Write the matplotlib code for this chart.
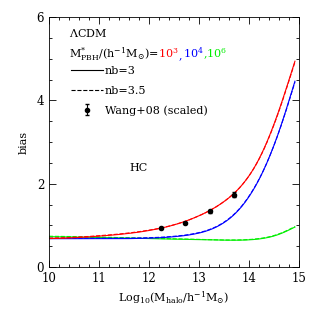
import numpy as np
import matplotlib
matplotlib.use("Agg")
import matplotlib.pyplot as plt
from matplotlib.ticker import MultipleLocator
from matplotlib.offsetbox import TextArea, HPacker, AnchoredOffsetbox

plt.rcParams['font.family'] = ['DejaVu Serif']
plt.rcParams['mathtext.fontset'] = 'dejavuserif'

# log10 halo mass grid used for the model curves
logm = [10.0, 10.5, 11.0, 11.5, 12.0, 12.5, 13.0, 13.3, 13.6, 13.9, 14.1, 14.3, 14.5, 14.7, 14.92]

# M*_PBH = 1e3 (red)
bias_1e3_nb3 = [0.68, 0.70, 0.74, 0.79, 0.87, 1.00, 1.22, 1.40, 1.64, 1.98, 2.32, 2.78, 3.38, 4.10, 4.94]
bias_1e3_nb35 = [0.69, 0.71, 0.75, 0.80, 0.88, 1.00, 1.22, 1.40, 1.64, 1.98, 2.32, 2.77, 3.36, 4.08, 4.92]
# M*_PBH = 1e4 (blue)
bias_1e4_nb3 = [0.68, 0.68, 0.68, 0.68, 0.69, 0.72, 0.80, 0.91, 1.12, 1.47, 1.84, 2.30, 2.86, 3.58, 4.46]
bias_1e4_nb35 = [0.69, 0.69, 0.69, 0.69, 0.70, 0.73, 0.81, 0.92, 1.13, 1.48, 1.85, 2.31, 2.85, 3.57, 4.44]
# M*_PBH = 1e6 (green)
bias_1e6_nb3 = [0.73, 0.72, 0.71, 0.70, 0.68, 0.67, 0.66, 0.65, 0.64, 0.645, 0.65, 0.68, 0.73, 0.81, 0.96]
bias_1e6_nb35 = [0.74, 0.73, 0.72, 0.70, 0.69, 0.68, 0.66, 0.65, 0.645, 0.65, 0.66, 0.69, 0.74, 0.82, 0.97]

# Wang+08 (scaled)
wang_m = [12.25, 12.73, 13.22, 13.70]
wang_b = [0.94, 1.06, 1.34, 1.74]
wang_err = [0.03, 0.03, 0.04, 0.06]

fig = plt.figure(figsize=(3.16, 3.16), dpi=100)
ax = fig.add_axes([0.155, 0.155, 0.791, 0.791])

xs = np.linspace(10.0, 14.92, 400)
def smooth(y):
    # interpolate in log space, then light moving average to round the knots
    v = np.exp(np.interp(xs, logm, np.log(y)))
    k = 25
    pad = np.concatenate([np.full(k, v[0]), v, v[-1] + (v[-1] - v[-k - 1:-1][::-1])])
    return np.convolve(pad, np.ones(2 * k + 1) / (2 * k + 1), mode='same')[k:-k]

ax.plot(xs, smooth(bias_1e6_nb3), color='#00ee00', lw=0.8)
ax.plot(xs, smooth(bias_1e6_nb35), color='#00ee00', lw=0.8, ls='--')
ax.plot(xs, smooth(bias_1e4_nb3), color='blue', lw=0.8)
ax.plot(xs, smooth(bias_1e4_nb35), color='blue', lw=0.8, ls='--')
ax.plot(xs, smooth(bias_1e3_nb3), color='red', lw=0.8)
ax.plot(xs, smooth(bias_1e3_nb35), color='red', lw=0.8, ls='--')

h1, = ax.plot([], [], color='black', lw=0.8)
h2, = ax.plot([], [], color='black', lw=0.8, ls='--')
h3 = ax.errorbar(wang_m, wang_b, yerr=wang_err, fmt='o', color='black',
                 ms=3, elinewidth=0.8, capsize=1.5)
leg = ax.legend([h1, h2, h3], ['nb=3', 'nb=3.5', 'Wang+08 (scaled)'],
                loc='upper left', bbox_to_anchor=(0.055, 0.835), frameon=False,
                fontsize=8, handlelength=2.9, handletextpad=0.2, labelspacing=0.85,
                borderpad=0.2)

ax.text(0.08, 0.935, r'$\Lambda$CDM', transform=ax.transAxes, fontsize=8, va='center')

# coloured mass line, pieces aligned on a common baseline
pieces = [(r'M$^{*}_{\rm PBH}$/(h$^{-1}$M$_{\odot}$)=', 'black'),
          (r'10$^{3}$', 'red'), (',', 'blue'), (r'10$^{4}$', 'blue'),
          (r',10$^{6}$', '#00ee00')]
areas = [TextArea(s, textprops=dict(color=c, fontsize=8)) for s, c in pieces]
box = HPacker(children=areas, align='baseline', pad=0, sep=0)
anch = AnchoredOffsetbox(loc='center left', child=box, pad=0, borderpad=0, frameon=False,
                         bbox_to_anchor=(0.08, 0.85), bbox_transform=ax.transAxes)
ax.add_artist(anch)

ax.text(11.8, 2.38, 'HC', fontsize=8, ha='center', va='center')

ax.set_xlim(10, 15)
ax.set_ylim(0, 6)
ax.xaxis.set_major_locator(MultipleLocator(1))
ax.xaxis.set_minor_locator(MultipleLocator(0.2))
ax.yaxis.set_major_locator(MultipleLocator(2))
ax.yaxis.set_minor_locator(MultipleLocator(0.5))
ax.tick_params(which='both', direction='in', top=True, right=True, labelsize=8.5, width=0.6)
ax.tick_params(which='major', length=5)
ax.tick_params(which='minor', length=2.5)
for s in ax.spines.values():
    s.set_linewidth(0.6)

ax.set_xlabel(r'Log$_{10}$(M$_{\rm halo}$/h$^{-1}$M$_{\odot}$)', fontsize=8, labelpad=3)
ax.set_ylabel('bias', fontsize=8, labelpad=6)

fig.savefig('out.png', dpi=100)
